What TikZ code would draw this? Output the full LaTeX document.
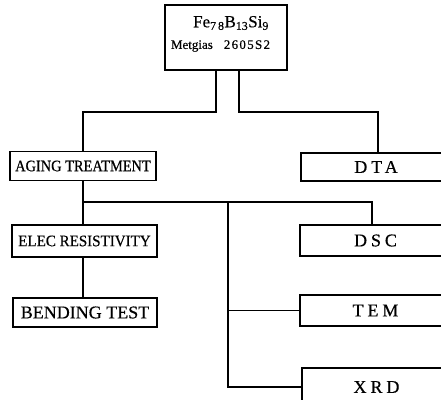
\documentclass[tikz,border=0pt]{standalone}
\usepackage{fontspec}
\setmainfont{Liberation Serif}[FakeBold=0.4]
\begin{document}
\begin{tikzpicture}[x=1pt,y=-1pt,
  box/.style={draw, line width=1.3pt, inner sep=0pt, anchor=center},
  conn/.style={line width=1.3pt},
  lbl/.style={inner sep=0pt, anchor=center},
  small/.style={font=\fontsize{16}{17}\selectfont\addfontfeature{FakeStretch=0.9}},
  big/.style={font=\fontsize{18}{19}\selectfont\addfontfeature{LetterSpace=22}}]
\clip (0,0) rectangle (441,399);
\fill[white] (0,0) rectangle (441,399);
% top box
\node[box, minimum width=122pt, minimum height=65pt] (top) at (226,37.5) {};
\node[lbl] (t1) at (231,23) {\fontsize{17}{18}\selectfont Fe\textsubscript{7\,8}B\textsubscript{13}Si\textsubscript{9}};
\node[lbl] (t2) at (220.5,46) {\fontsize{13}{14}\selectfont Metgias\hspace{11pt}{\addfontfeature{LetterSpace=10}2605S2}};
% left column
\node[box, small, minimum width=146pt, minimum height=29pt] (aging) at (83,166) {AGING TREATMENT};
\node[box, minimum width=145pt, minimum height=32pt, font=\fontsize{16}{17}\selectfont\addfontfeature{FakeStretch=0.94}] (elec) at (84.5,241) {ELEC RESISTIVITY};
\node[box, minimum width=144pt, minimum height=29pt, font=\fontsize{18}{19}\selectfont] (bend) at (85,312.5) {BENDING TEST};
% right column
\node[box, big, minimum width=150pt, minimum height=28pt] (dta) at (376,167) {DTA};
\node[box, big, minimum width=151pt, minimum height=31pt] (dsc) at (375.5,240.5) {DSC};
\node[box, big, minimum width=151pt, minimum height=31pt] (tem) at (375.5,310.5) {TEM};
\node[box, big, minimum width=149pt, minimum height=38pt] (xrd) at (376.5,387) {XRD};
% junction coordinates
\coordinate (jl) at (216,112);
\coordinate (jr) at (239,112);
\coordinate (jm) at (83,202);
\coordinate (jv) at (228,202);
\coordinate (jd) at (372,202);
% connectors
\draw[conn] (top.south -| jl) -- (jl) -| (aging.north);
\draw[conn] (top.south -| jr) -- (jr) -| ([xshift=2pt]dta.north);
\draw[conn] (aging.south) -- (aging.south |- elec.north);
\draw[conn] (aging.south |- elec.south) -- (aging.south |- bend.north);
\draw[conn] (jm) -- (jd) -- (jd |- dsc.north);
\draw[conn] (jv) |- (xrd.west);
\draw[conn] (tem.west) -- (tem.west -| jv);
\end{tikzpicture}
\end{document}
